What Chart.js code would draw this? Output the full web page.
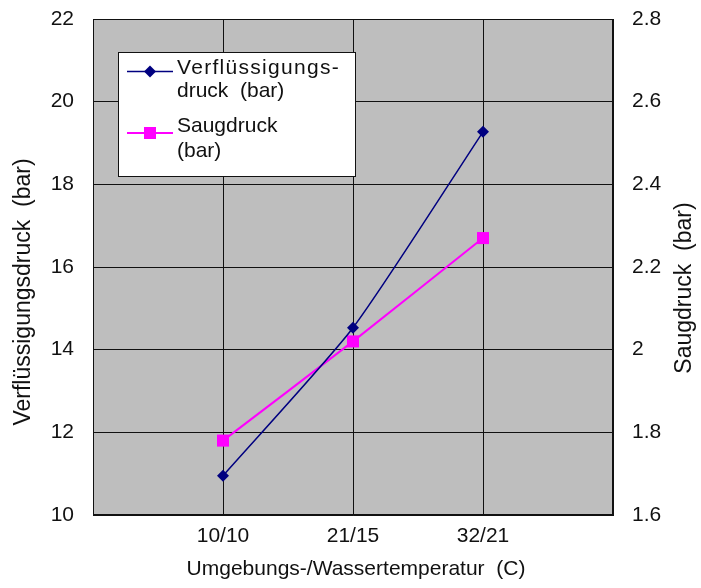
<!DOCTYPE html>
<html>
<head>
<meta charset="utf-8">
<script src="https://cdn.jsdelivr.net/npm/chart.js@4.4.1/dist/chart.umd.min.js"></script>
<style>
  html, body { margin: 0; padding: 0; background: #fff; }
  #wrap { width: 701px; height: 588px; }
</style>
</head>
<body>
<div id="wrap"><canvas id="chart" width="701" height="588"></canvas></div>
<script>
// --- data ---
const categories = ['10/10', '21/15', '32/21'];
const verfluessigung = [10.95, 14.53, 19.27];   // left axis (bar)
const saugdruck = [1.78, 2.02, 2.27];           // right axis (bar)
const leftTicks = [10, 12, 14, 16, 18, 20, 22];
const rightTicks = [1.6, 1.8, 2.0, 2.2, 2.4, 2.6, 2.8];

const FONT = "'Liberation Sans', Arial, Helvetica, sans-serif";
Chart.defaults.font.family = FONT;
Chart.defaults.font.size = 21;
Chart.defaults.color = '#111';

const navy = '#000080';
const magenta = '#ff00ff';

const toPoints = arr => arr.map((v, i) => ({ x: i + 1, y: v }));
const noPad = s => { s.paddingTop = 0; s.paddingBottom = 0; };

// Hintergrund, Rahmen, Legende und Achsentitel
const decor = {
  id: 'decor',
  beforeDraw(chart) {
    const { ctx, chartArea: a } = chart;
    ctx.save();
    ctx.fillStyle = '#fff';
    ctx.fillRect(0, 0, chart.width, chart.height);
    ctx.fillStyle = '#bebebe';
    ctx.fillRect(a.left, a.top, a.right - a.left, a.bottom - a.top);
    ctx.restore();
  },
  beforeDatasetsDraw(chart) {
    const { ctx, chartArea: a } = chart;
    ctx.save();
    ctx.strokeStyle = '#111';
    ctx.lineWidth = 1;
    ctx.strokeRect(a.left + 0.5, a.top + 0.5, a.right - a.left - 1, a.bottom - a.top - 1);
    ctx.restore();
  },
  afterDraw(chart) {
    const { ctx } = chart;
    ctx.save();
    ctx.fillStyle = '#111';

    // axis titles
    ctx.textAlign = 'center';
    ctx.textBaseline = 'middle';
    ctx.font = '21px ' + FONT;
    ctx.fillText('Umgebungs-/Wassertemperatur  (C)', 356, 569);

    ctx.font = '23px ' + FONT;
    ctx.save();
    ctx.translate(24, 292);
    ctx.rotate(-Math.PI / 2);
    ctx.fillText('Verflüssigungsdruck  (bar)', 0, 0);
    ctx.restore();

    ctx.save();
    ctx.translate(685, 288);
    ctx.rotate(-Math.PI / 2);
    ctx.fillText('Saugdruck  (bar)', 0, 0);
    ctx.restore();

    // legend box
    const bx = 118, by = 52, bw = 237, bh = 124;
    ctx.fillStyle = '#fff';
    ctx.fillRect(bx, by, bw, bh);
    ctx.strokeStyle = '#111';
    ctx.lineWidth = 1;
    ctx.strokeRect(bx + 0.5, by + 0.5, bw, bh);

    // entry 1: line + diamond
    ctx.strokeStyle = navy;
    ctx.lineWidth = 1.5;
    ctx.beginPath();
    ctx.moveTo(127, 71.5); ctx.lineTo(173, 71.5);
    ctx.stroke();
    ctx.fillStyle = navy;
    ctx.beginPath();
    ctx.moveTo(150 - 6, 71.5); ctx.lineTo(150, 65.5);
    ctx.lineTo(150 + 6, 71.5); ctx.lineTo(150, 77.5);
    ctx.closePath();
    ctx.fill();

    // entry 2: line + square
    ctx.strokeStyle = magenta;
    ctx.lineWidth = 2;
    ctx.beginPath();
    ctx.moveTo(127, 133); ctx.lineTo(173, 133);
    ctx.stroke();
    ctx.fillStyle = magenta;
    ctx.fillRect(144, 127, 12, 12);

    ctx.fillStyle = '#111';
    ctx.font = '21px ' + FONT;
    ctx.textAlign = 'left';
    ctx.textBaseline = 'alphabetic';
    ctx.letterSpacing = '1.3px';
    ctx.fillText('Verflüssigungs-', 177, 74);
    ctx.letterSpacing = '0px';
    ctx.fillText('druck  (bar)', 177, 97);
    ctx.fillText('Saugdruck', 177, 132);
    ctx.fillText('(bar)', 177, 157);
    ctx.restore();
  }
};

new Chart(document.getElementById('chart'), {
  type: 'line',
  data: {
    datasets: [
      {
        label: 'Verflüssigungsdruck (bar)',
        data: toPoints(verfluessigung),
        yAxisID: 'y',
        borderColor: navy,
        backgroundColor: navy,
        borderWidth: 1.5,
        pointStyle: 'rectRot',
        pointRadius: 6,
        pointBorderWidth: 0,
        tension: 0.2
      },
      {
        label: 'Saugdruck (bar)',
        data: toPoints(saugdruck),
        yAxisID: 'y1',
        borderColor: magenta,
        backgroundColor: magenta,
        borderWidth: 2,
        pointStyle: 'rect',
        pointRadius: 8.5,
        pointBorderWidth: 0,
        tension: 0.2
      }
    ]
  },
  options: {
    responsive: false,
    animation: false,
    layout: { padding: { top: 19, left: 0, right: 0, bottom: 0 } },
    plugins: { legend: { display: false }, tooltip: { enabled: false } },
    scales: {
      x: {
        type: 'linear',
        min: 0,
        max: 4,
        afterBuildTicks: s => { s.ticks = [0, 1, 2, 3, 4].map(v => ({ value: v })); },
        afterFit: s => { s.height = 73; s.paddingLeft = 0; s.paddingRight = 0; },
        grid: {
          drawTicks: false,
          color: c => (c.tick && c.tick.value > 0 && c.tick.value < 4) ? '#111' : 'rgba(0,0,0,0)',
          lineWidth: 1
        },
        border: { display: true, color: '#111' },
        ticks: {
          padding: 9,
          maxRotation: 0,
          autoSkip: false,
          callback: v => categories[v - 1] || ''
        }
      },
      y: {
        position: 'left',
        min: 10,
        max: 22,
        afterBuildTicks: s => { s.ticks = leftTicks.map(v => ({ value: v })); },
        afterFit: s => { s.width = 93; noPad(s); },
        grid: { drawTicks: false, color: '#111', lineWidth: 1 },
        border: { display: true, color: '#111' },
        ticks: { padding: 19 }
      },
      y1: {
        position: 'right',
        min: 1.6,
        max: 2.8,
        afterBuildTicks: s => { s.ticks = rightTicks.map(v => ({ value: v })); },
        afterFit: s => { s.width = 88; noPad(s); },
        grid: { drawOnChartArea: false, drawTicks: false },
        border: { display: true, color: '#111' },
        ticks: {
          padding: 19,
          callback: v => (Math.abs(v - 2) < 1e-9 ? '2' : v.toFixed(1))
        }
      }
    }
  },
  plugins: [decor]
});
</script>
</body>
</html>
